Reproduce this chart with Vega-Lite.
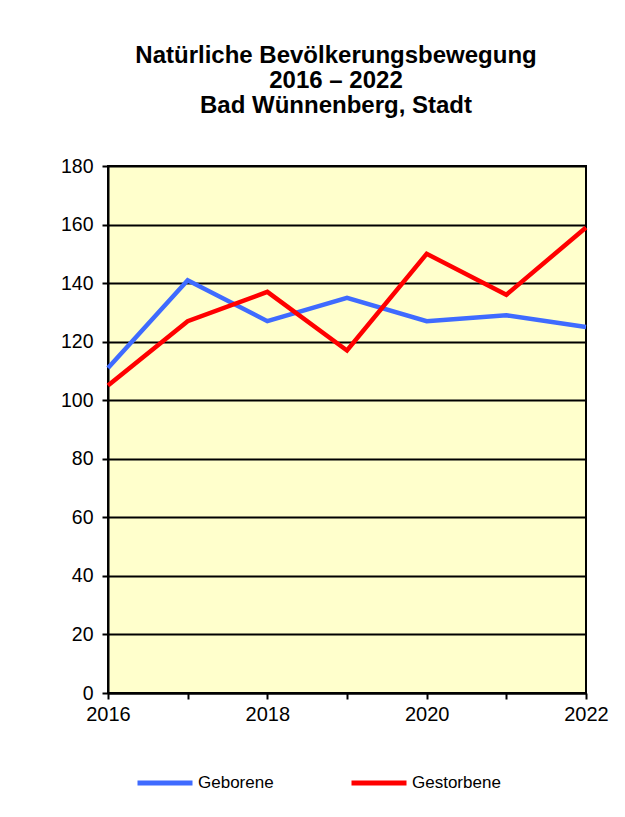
{
  "$schema": "https://vega.github.io/schema/vega-lite/v6.json",
  "autosize": "none",
  "width": 478,
  "height": 527,
  "padding": {"left": 108, "top": 166, "right": 39, "bottom": 124},
  "background": "white",
  "title": {
    "text": ["Natürliche Bevölkerungsbewegung", "2016 – 2022", "Bad Wünnenberg, Stadt"],
    "font": "Liberation Sans",
    "fontSize": 24,
    "fontWeight": "bold",
    "color": "black",
    "lineHeight": 25,
    "anchor": "middle",
    "dx": -11,
    "offset": 38
  },
  "data": {
    "values": [
      {"year": 2016, "series": "Geborene", "value": 111},
      {"year": 2017, "series": "Geborene", "value": 141},
      {"year": 2018, "series": "Geborene", "value": 127},
      {"year": 2019, "series": "Geborene", "value": 135},
      {"year": 2020, "series": "Geborene", "value": 127},
      {"year": 2021, "series": "Geborene", "value": 129},
      {"year": 2022, "series": "Geborene", "value": 125},
      {"year": 2016, "series": "Gestorbene", "value": 105},
      {"year": 2017, "series": "Gestorbene", "value": 127},
      {"year": 2018, "series": "Gestorbene", "value": 137},
      {"year": 2019, "series": "Gestorbene", "value": 117},
      {"year": 2020, "series": "Gestorbene", "value": 150},
      {"year": 2021, "series": "Gestorbene", "value": 136},
      {"year": 2022, "series": "Gestorbene", "value": 159}
    ]
  },
  "mark": {"type": "line", "strokeWidth": 4.5, "strokeJoin": "miter", "clip": false},
  "encoding": {
    "x": {
      "field": "year",
      "type": "quantitative",
      "scale": {"domain": [2016, 2022], "nice": false, "zero": false},
      "axis": {
        "title": null,
        "values": [2016, 2017, 2018, 2019, 2020, 2021, 2022],
        "format": "d",
        "labelExpr": "datum.value % 2 == 0 ? datum.label : ''",
        "grid": false,
        "domainColor": "black",
        "domainWidth": 2,
        "tickColor": "black",
        "tickWidth": 2,
        "tickSize": 6,
        "labelFont": "Liberation Sans",
        "labelFontSize": 20,
        "labelColor": "black",
        "labelPadding": 5,
        "labelFlush": false,
        "labelOverlap": false
      }
    },
    "y": {
      "field": "value",
      "type": "quantitative",
      "scale": {"domain": [0, 180], "nice": false},
      "axis": {
        "title": null,
        "values": [0, 20, 40, 60, 80, 100, 120, 140, 160, 180],
        "grid": true,
        "gridColor": "black",
        "gridWidth": 2,
        "gridOpacity": 1,
        "domainColor": "black",
        "domainWidth": 2,
        "tickColor": "black",
        "tickWidth": 2,
        "tickSize": 6,
        "labelFont": "Liberation Sans",
        "labelFontSize": 19.5,
        "labelColor": "black",
        "labelPadding": 9
      }
    },
    "color": {
      "field": "series",
      "type": "nominal",
      "scale": {"domain": ["Geborene", "Gestorbene"], "range": ["#3F6BFF", "#FF0000"]},
      "legend": {
        "title": null,
        "orient": "none",
        "direction": "horizontal",
        "legendX": 27,
        "legendY": 587,
        "padding": 0,
        "symbolType": "stroke",
        "symbolSize": 3025,
        "symbolStrokeWidth": 5,
        "symbolOffset": 0,
        "labelFont": "Liberation Sans",
        "labelFontSize": 17,
        "labelColor": "black",
        "labelOffset": 3,
        "columnPadding": 67
      }
    }
  },
  "config": {
    "view": {"fill": "#FFFFCC", "stroke": "black", "strokeWidth": 2}
  }
}
